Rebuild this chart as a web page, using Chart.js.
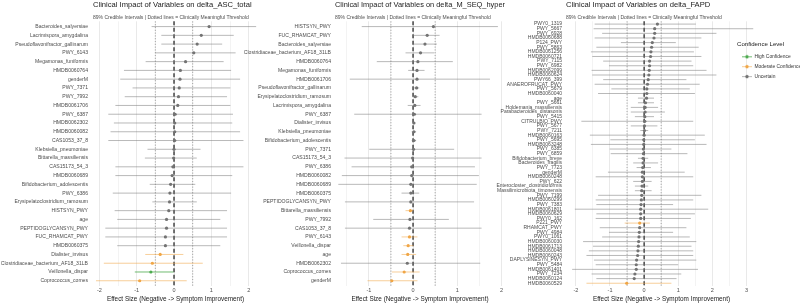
<!DOCTYPE html>
<html>
<head>
<meta charset="utf-8">
<script src="https://cdn.jsdelivr.net/npm/chart.js@4.4.0/dist/chart.umd.min.js"></script>
<style>
  body { margin: 0; background: #fff; width: 800px; height: 305px; position: relative; overflow: hidden; }
  .panel { position: absolute; top: 0; height: 305px; }
</style>
</head>
<body>
<div class="panel" style="left:0;width:262px"><canvas id="asc-chart"></canvas></div>
<div class="panel" style="left:238px;width:272px"><canvas id="mseq-chart"></canvas></div>
<div class="panel" style="left:490px;width:310px"><canvas id="fapd-chart"></canvas></div>
<div class="panel" style="left:737px;top:41px;width:63px;height:46px"><canvas id="legend-chart"></canvas></div>
<script>
// Dados - delta_ASC_total
const ascLabels = ['Bacteroides_salyersiae', 'Lacrimispora_amygdalina', 'Pseudoflavonifractor_gallinarum', 'PWY_6143',
  'Megamonas_funiformis', 'HMDB0060764', 'genderM', 'PWY_7371', 'PWY_7992', 'HMDB0061706', 'PWY_6387', 'HMDB0062302',
  'HMDB0060082', 'CAS1053_37_8', 'Klebsiella_pneumoniae', 'Bittarella_massiliensis', 'CAS15173_54_3', 'HMDB0060689',
  'Bifidobacterium_adolescentis', 'PWY_6386', 'Erysipelatoclostridium_ramosum', 'HISTSYN_PWY', 'age',
  'PEPTIDOGLYCANSYN_PWY', 'FUC_RHAMCAT_PWY', 'HMDB0060375', 'Dialister_invisus', 'Clostridiaceae_bacterium_AF18_31LB',
  'Veillonella_dispar', 'Coprococcus_comes'];
const ascEst = [0.94, 0.73, 0.62, 0.53, 0.31, 0.17, 0.16, 0.14, 0.12, 0.10, 0.03, 0.02, 0.02, 0.02, 0.00, -0.01, -0.03,
  -0.05, -0.09, -0.11, -0.12, -0.14, -0.20, -0.20, -0.23, -0.23, -0.37, -0.58, -0.62, -0.92];
const ascLow = [-0.60, -0.34, -0.34, -0.50, -0.76, -1.34, -1.44, -1.11, -1.32, -1.57, -1.76, -1.61, -1.70, -1.76, -0.71,
  -0.78, -1.57, -1.57, -0.65, -1.64, -0.58, -1.59, -1.52, -1.84, -1.84, -1.52, -0.77, -1.88, -1.05, -2.09];
const ascHigh = [2.20, 1.60, 1.29, 1.65, 1.33, 1.53, 1.77, 1.51, 1.42, 1.51, 1.58, 1.56, 1.77, 1.86, 0.71, 0.61, 1.86,
  1.56, 0.57, 1.53, 0.61, 1.42, 1.24, 1.42, 1.42, 1.24, 0.25, 0.77, -0.01, 0.34];
const ascLevel = ['U', 'U', 'U', 'U', 'U', 'U', 'U', 'U', 'U', 'U', 'U', 'U', 'U', 'U', 'U', 'U', 'U', 'U', 'U', 'U',
  'U', 'U', 'U', 'U', 'U', 'U', 'M', 'M', 'H', 'M'];

// Dados - delta_M_SEQ_hyper
const mseqLabels = ['HISTSYN_PWY', 'FUC_RHAMCAT_PWY', 'Bacteroides_salyersiae', 'Clostridiaceae_bacterium_AF18_31LB',
  'HMDB0060764', 'Megamonas_funiformis', 'HMDB0061706', 'Pseudoflavonifractor_gallinarum',
  'Erysipelatoclostridium_ramosum', 'Lacrimispora_amygdalina', 'PWY_6387', 'Dialister_invisus', 'Klebsiella_pneumoniae',
  'Bifidobacterium_adolescentis', 'PWY_7371', 'CAS15173_54_3', 'PWY_6386', 'HMDB0060082', 'HMDB0060689', 'HMDB0060375',
  'PEPTIDOGLYCANSYN_PWY', 'Bittarella_massiliensis', 'PWY_7992', 'CAS1053_37_8', 'PWY_6143', 'Veillonella_dispar', 'age',
  'HMDB0062302', 'Coprococcus_comes', 'genderM'];
const mseqEst = [0.46, 0.32, 0.27, 0.17, 0.11, 0.09, 0.09, 0.08, 0.05, 0.04, 0.03, 0.02, 0.02, 0.02, 0.01, -0.01, -0.03,
  -0.03, -0.05, -0.05, -0.05, -0.06, -0.07, -0.08, -0.08, -0.11, -0.12, -0.13, -0.20, -0.48];
const mseqLow = [-1.16, -0.01, -0.01, -0.17, -0.82, -0.11, -1.43, -0.01, -0.02, -0.12, -1.33, -0.02, -0.03, -0.03, -0.99,
  -1.55, -1.39, -1.61, -1.69, -0.26, -1.54, -0.17, -0.90, -1.54, -0.26, -0.22, -0.26, -1.63, -0.48, -1.03];
const mseqHigh = [1.92, 0.60, 0.54, 0.48, 0.90, 0.26, 1.74, 0.14, 0.12, 0.17, 1.55, 0.05, 0.07, 0.07, 0.93, 1.55, 1.40,
  1.49, 1.44, 0.14, 1.38, 0.01, 0.81, 1.55, 0.10, 0.01, 0.07, 1.52, 0.15, 0.10];
const mseqLevel = ['U', 'U', 'U', 'U', 'U', 'U', 'U', 'U', 'U', 'U', 'U', 'U', 'U', 'U', 'U', 'U', 'U', 'U', 'U', 'U',
  'U', 'M', 'U', 'U', 'M', 'M', 'M', 'U', 'M', 'M'];

// Dados - delta_FAPD
const fapdLabels = ['PWY0_1319', 'PWY_5667', 'PWY_6928', 'HMDB0060688', 'P124_PWY', 'PWY_5863', 'HMDB0061256',
  'HMDB0060721', 'PWY_7115', 'PWY_6982', 'HMDB0062099', 'HMDB0060624', 'PWY66_399', 'ANAEROFRUCAT_PWY', 'PWY_5679',
  'HMDB0060040', 'age', 'PWY_5661', 'Holdemania_massiliensis', 'Parabacteroides_distasonis', 'PWY_5415', 'CITRULBIO_PWY',
  'PWY_5677', 'PWY_7211', 'HMDB0060163', 'PWY_5695', 'HMDB0063248', 'PWY_6385', 'PWY_6859', 'Bifidobacterium_breve',
  'Bacteroides_fragilis', 'PWY_7723', 'genderM', 'HMDB0060248', 'PWY_622', 'Enterocloster_clostridioformis',
  'Massilimicrobiota_timonensis', 'PWY_7199', 'HMDB0060299', 'PWY_7383', 'HMDB0061801', 'HMDB0060629', 'PWY0_162',
  'P221_PWY', 'RHAMCAT_PWY', 'PWY_4984', 'PWY0_1061', 'HMDB0060030', 'HMDB0061713', 'HMDB0060048', 'HMDB0060243',
  'DAPLYSINESYN_PWY', 'PWY_5484', 'HMDB0061401', 'PWY_7234', 'HMDB0060124', 'HMDB0060529'];
const fapdEst = [0.39, 0.31, 0.31, 0.29, 0.24, 0.22, 0.20, 0.19, 0.16, 0.16, 0.15, 0.14, 0.12, 0.10, 0.08, 0.08, 0.07,
  0.04, 0.03, 0.03, 0.02, 0.02, 0.01, 0.01, 0.00, -0.01, -0.01, -0.02, -0.02, -0.03, -0.03, -0.04, -0.05, -0.05, -0.05,
  -0.06, -0.07, -0.07, -0.08, -0.09, -0.10, -0.10, -0.10, -0.13, -0.13, -0.14, -0.15, -0.16, -0.17, -0.18, -0.19, -0.22,
  -0.23, -0.23, -0.27, -0.29, -0.51];
const fapdLow = [-1.45, -1.48, -1.23, -1.45, -0.68, -1.40, -1.56, -1.52, -1.20, -1.03, -1.54, -1.52, -1.20, -1.45, -0.96,
  -1.35, -0.18, -0.18, -0.39, -0.39, -0.27, -1.84, -0.39, -0.11, -1.59, -0.99, -1.56, -1.01, -0.98, -0.18, -0.32, -0.22,
  -1.06, -1.42, -0.32, -0.27, -0.27, -1.35, -1.42, -1.40, -2.03, -1.40, -1.42, -0.57, -1.30, -1.03, -1.23, -1.79, -1.50,
  -1.62, -1.69, -1.47, -1.42, -2.11, -1.54, -1.40, -1.69];
const fapdHigh = [1.52, 3.20, 2.12, 1.68, 0.93, 1.60, 1.46, 1.68, 1.39, 1.44, 1.83, 2.12, 1.24, 1.63, 1.34, 1.49, 0.29,
  0.29, 0.41, 0.61, 0.29, 1.44, 0.39, 0.12, 1.78, 1.49, 1.83, 0.80, 1.27, 0.12, 0.41, 0.20, 1.19, 1.44, 0.22, 0.12, 0.22,
  1.68, 1.44, 0.85, 1.88, 1.49, 1.37, 0.17, 1.24, 0.85, 1.34, 1.53, 1.39, 1.44, 1.44, 1.53, 1.00, 1.58, 1.09, 0.95, 0.80];
const fapdLevel = fapdLabels.map((l, i) => (i === 43 || i === 56) ? 'M' : 'U');

// Níveis de confiança e linhas de referência
const levelCodes = ['H', 'M', 'U'];
const levelNames = ['High Confidence', 'Moderate Confidence', 'Uncertain'];
const levelColors = ['#4DAA4F', '#F0A646', '#737373'];
const ciColors = ['rgba(77,170,79,0.8)', 'rgba(240,166,70,0.55)', 'rgba(115,115,115,0.5)'];
const nullLine = 0;
const thresholdLines = [-0.5, 0.5];

const titleText = 'Clinical Impact of Variables on ';
const subtitleText = '89% Credible Intervals | Dotted lines = Clinically Meaningful Threshold';
const xTitleText = 'Effect Size (Negative -> Symptom Improvement)';

// Linhas tracejadas (0) e pontilhadas (limiar)
const refLinesPlugin = {
  id: 'refLines',
  beforeDatasetsDraw(chart) {
    const { ctx, chartArea, scales: { x } } = chart;
    ctx.save();
    ctx.strokeStyle = '#8c8c8c';
    ctx.lineWidth = 0.8;
    ctx.setLineDash([1.2, 1.6]);
    thresholdLines.forEach(v => {
      const px = x.getPixelForValue(v);
      ctx.beginPath();
      ctx.moveTo(px, chartArea.top);
      ctx.lineTo(px, chartArea.bottom);
      ctx.stroke();
    });
    ctx.strokeStyle = '#1a1a1a';
    ctx.lineWidth = 1.2;
    ctx.setLineDash([4, 2.5]);
    const zx = x.getPixelForValue(nullLine);
    ctx.beginPath();
    ctx.moveTo(zx, chartArea.top);
    ctx.lineTo(zx, chartArea.bottom);
    ctx.stroke();
    ctx.restore();
  }
};

function isWhole(v) {
  return Math.abs(v - Math.round(v)) < 1e-6;
}

// Um conjunto de linhas (intervalo) e um de pontos para cada nível
function buildDatasets(est, low, high, level) {
  const sets = [];
  levelCodes.forEach((code, k) => {
    const segments = [];
    const points = [];
    est.forEach((v, i) => {
      if (level[i] !== code) return;
      segments.push({ x: low[i], y: i }, { x: high[i], y: i }, { x: null, y: null });
      points.push({ x: v, y: i });
    });
    sets.push({
      label: levelNames[k] + ' CI', data: segments, showLine: true, spanGaps: false,
      borderColor: ciColors[k], borderWidth: 1, pointRadius: 0, order: 1
    });
    sets.push({
      label: levelNames[k], data: points, backgroundColor: levelColors[k], borderColor: levelColors[k],
      pointRadius: 1.6, borderWidth: 0, order: 0
    });
  });
  return sets;
}

function makePanel(id, cfg) {
  const n = cfg.labels.length;
  return new Chart(document.getElementById(id), {
    type: 'scatter',
    data: { datasets: buildDatasets(cfg.est, cfg.low, cfg.high, cfg.level) },
    options: {
      responsive: true,
      maintainAspectRatio: false,
      animation: false,
      layout: { padding: { top: 0, bottom: 2.1, left: 0, right: cfg.padRight } },
      plugins: {
        legend: { display: false },
        tooltip: { enabled: false },
        title: {
          display: true, text: titleText + cfg.name, align: 'start', fullSize: false,
          color: '#1a1a1a', font: { family: 'Liberation Sans', size: 7.6, weight: 'normal' },
          padding: { top: 0, bottom: 6 }
        },
        subtitle: {
          display: true, text: subtitleText, align: 'start', fullSize: false,
          color: '#4d4d4d', font: { family: 'Liberation Sans', size: 5 },
          padding: { top: 0, bottom: 0.2 }
        }
      },
      scales: {
        x: {
          type: 'linear', min: cfg.xMin, max: cfg.xMax,
          border: { display: false },
          grid: {
            drawTicks: false, color: '#e6e6e6',
            lineWidth: c => isWhole(c.tick.value) ? 0.9 : 0.5
          },
          ticks: {
            stepSize: 0.5, includeBounds: false, padding: 1.3, color: '#4d4d4d',
            font: { family: 'Liberation Sans', size: 5.5 },
            callback: v => isWhole(v) ? String(Math.round(v)) : ''
          },
          title: {
            display: true, text: xTitleText, color: '#1a1a1a',
            font: { family: 'Liberation Sans', size: 6.4 }, padding: { top: 0, bottom: 0 }
          }
        },
        y: {
          type: 'linear', reverse: true, min: -0.6, max: n - 0.4,
          afterFit: s => { s.width = cfg.axisWidth; },
          border: { display: false },
          grid: { display: false, drawTicks: false },
          ticks: {
            stepSize: 1, autoSkip: false, includeBounds: false, padding: cfg.labelGap, color: '#4d4d4d',
            font: { family: 'Liberation Sans', size: cfg.labelSize },
            callback: v => cfg.labels[Math.round(v)] ?? ''
          }
        }
      }
    },
    plugins: [refLinesPlugin]
  });
}

makePanel('asc-chart', {
  name: 'delta_ASC_total', labels: ascLabels, est: ascEst, low: ascLow, high: ascHigh, level: ascLevel,
  xMin: -2.17, xMax: 2.25, axisWidth: 93, labelGap: 5, labelSize: 5.1, padRight: 4
});
makePanel('mseq-chart', {
  name: 'delta_M_SEQ_hyper', labels: mseqLabels, est: mseqEst, low: mseqLow, high: mseqHigh, level: mseqLevel,
  xMin: -1.765, xMax: 2.08, axisWidth: 97, labelGap: 4, labelSize: 5.1, padRight: 5
});
makePanel('fapd-chart', {
  name: 'delta_FAPD', labels: fapdLabels, est: fapdEst, low: fapdLow, high: fapdHigh, level: fapdLevel,
  xMin: -2.29, xMax: 3.31, axisWidth: 76, labelGap: 4, labelSize: 5, padRight: 43
});

// Ícone da legenda: ponto com traço horizontal
function legendIcon(k) {
  const c = document.createElement('canvas');
  c.width = 10;
  c.height = 5;
  const g = c.getContext('2d');
  g.strokeStyle = ciColors[k];
  g.lineWidth = 1;
  g.beginPath();
  g.moveTo(0, 2.5);
  g.lineTo(10, 2.5);
  g.stroke();
  g.fillStyle = levelColors[k];
  g.beginPath();
  g.arc(5, 2.5, 1.7, 0, Math.PI * 2);
  g.fill();
  return c;
}

new Chart(document.getElementById('legend-chart'), {
  type: 'scatter',
  data: {
    datasets: levelNames.map((name, k) => ({
      label: name, data: [], pointStyle: legendIcon(k), backgroundColor: levelColors[k]
    }))
  },
  options: {
    responsive: true,
    maintainAspectRatio: false,
    animation: false,
    layout: { padding: 0 },
    scales: { x: { display: false }, y: { display: false } },
    plugins: {
      tooltip: { enabled: false },
      legend: {
        position: 'left', align: 'start', maxWidth: 63,
        title: {
          display: true, text: 'Confidence Level', position: 'start', color: '#1a1a1a',
          font: { family: 'Liberation Sans', size: 6.1 }, padding: { top: 0, bottom: 1 }
        },
        labels: {
          usePointStyle: true, pointStyleWidth: 10, boxHeight: 5, padding: 5, color: '#333',
          font: { family: 'Liberation Sans', size: 4.9 }
        }
      }
    }
  }
});
</script>
</body>
</html>
